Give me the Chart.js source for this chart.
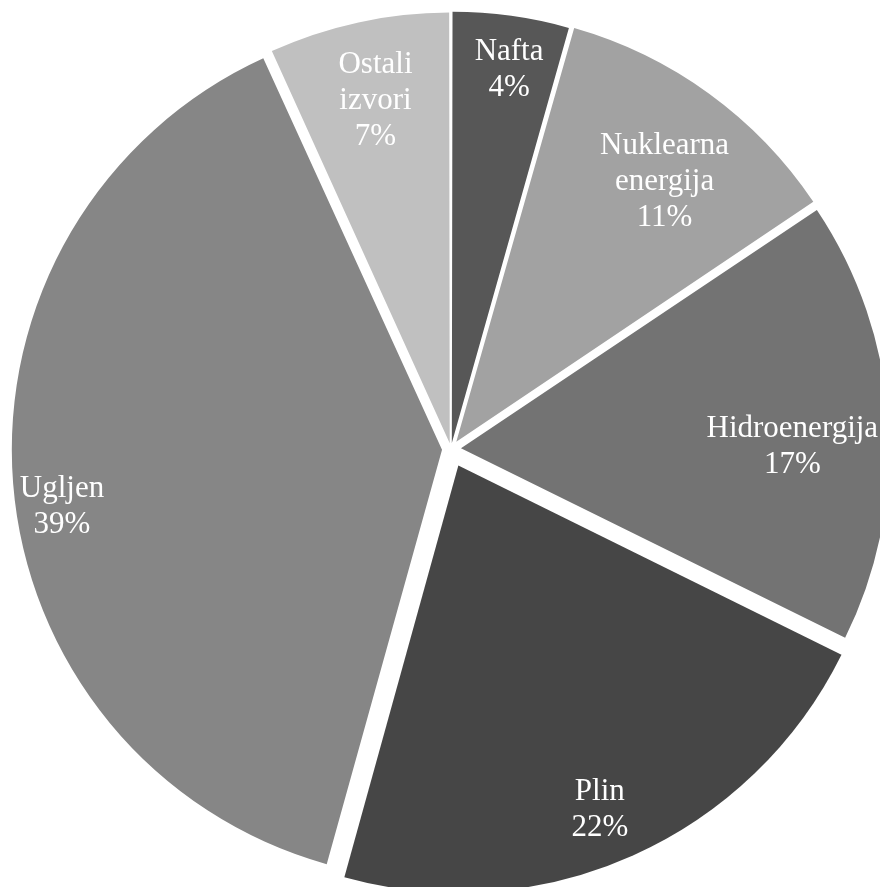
<!DOCTYPE html>
<html>
<head>
<meta charset="utf-8">
<script src="https://cdn.jsdelivr.net/npm/chart.js@4"></script>
<style>
  html, body { margin: 0; padding: 0; background: #fff; overflow: hidden; }
  #wrap { width: 880px; height: 887px; position: relative; }
  #probe { font-family: "Liberation Serif"; position: absolute; left: -999px; }
</style>
</head>
<body>
<span id="probe">Nafta</span>
<div id="wrap"><canvas id="pie"></canvas></div>
<script>
// kategorije i udjeli (%), redom od vrha u smjeru kazaljke
const izvori = ["Nafta", "Nuklearna energija", "Hidroenergija", "Plin", "Ugljen", "Ostali izvori"];
const udjeli = [4.4, 11.2, 16.7, 22.0, 38.9, 6.8];
const oznake = [["Nafta", "4%"], ["Nuklearna", "energija", "11%"], ["Hidroenergija", "17%"], ["Plin", "22%"], ["Ugljen", "39%"], ["Ostali", "izvori", "7%"]];

const boje = ["#575757", "#a2a2a2", "#737373", "#464646", "#868686", "#c0c0c0"];
const razmak = [6, 9, 10, 18, 9, 6];            // pomak isječka (px)
const radijusOznake = [0.885, 0.78, 0.776, 0.873, 0.9, 0.82];
const kutOznake = [0.55, 0.567, 0.56, 0.523, 0.471, 0.5];

const FONT = '31px "Liberation Serif", "Times New Roman", serif';

const oznakePlugin = {
  id: "oznake",
  afterDatasetsDraw(chart) {
    const ctx = chart.ctx;
    const arcs = chart.getDatasetMeta(0).data;
    ctx.save();
    ctx.fillStyle = "#ffffff";
    ctx.font = FONT;
    ctx.textAlign = "center";
    ctx.textBaseline = "middle";
    arcs.forEach((arc, i) => {
      const p = arc.getProps(["x", "y", "startAngle", "endAngle", "outerRadius"], true);
      const mid = (p.startAngle + p.endAngle) / 2;
      const ang = p.startAngle + (p.endAngle - p.startAngle) * kutOznake[i];
      const ox = p.x + Math.cos(mid) * razmak[i];
      const oy = p.y + Math.sin(mid) * razmak[i];
      const r = radijusOznake[i] * p.outerRadius;
      const cx = ox + Math.cos(ang) * r;
      const cy = oy + Math.sin(ang) * r;
      const lines = oznake[i];
      const lh = 36;
      lines.forEach((t, j) => {
        ctx.fillText(t, cx, cy + (j - (lines.length - 1) / 2) * lh);
      });
    });
    ctx.restore();
  }
};

function nacrtaj() {
  new Chart(document.getElementById("pie"), {
    type: "pie",
    data: {
      labels: izvori,
      datasets: [{
        data: udjeli,
        backgroundColor: boje,
        borderWidth: 0,
        offset: razmak.map(d => d * 4)
      }]
    },
    options: {
      responsive: true,
      maintainAspectRatio: false,
      animation: false,
      radius: 427,
      layout: { padding: { left: 22, top: 11 } },
      plugins: {
        legend: { display: false },
        tooltip: { enabled: false }
      },
      events: []
    },
    plugins: [oznakePlugin]
  });
}

document.fonts.load(FONT).then(nacrtaj, nacrtaj);
</script>
</body>
</html>
